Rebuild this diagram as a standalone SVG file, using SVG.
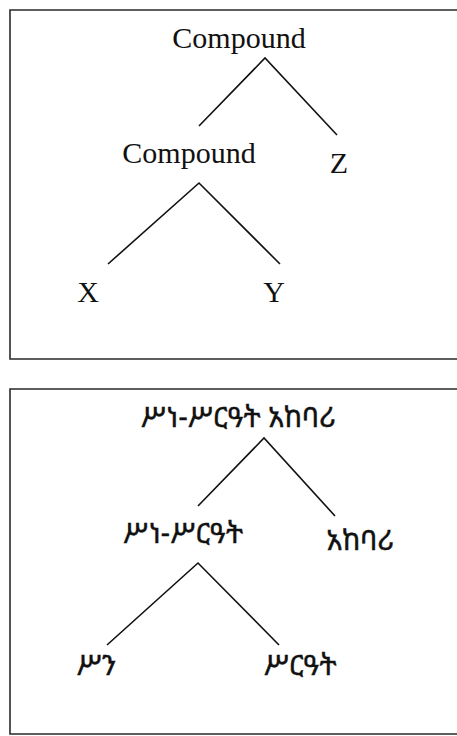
<svg xmlns="http://www.w3.org/2000/svg" width="457" height="736" viewBox="0 0 457 736">
<style>
.frame{fill:none;stroke:#2a2a2a;stroke-width:1.6}
.edge{stroke:#111;stroke-width:1.6;fill:none}
.lat{font-family:"Liberation Serif","Times New Roman",serif;font-size:30px;fill:#111;text-anchor:middle}
.eth{font-family:"Noto Sans Ethiopic","Abyssinica SIL","DejaVu Sans","Noto Sans",sans-serif;font-size:28.5px;fill:#111;stroke:#111;stroke-width:0.4;text-anchor:middle}
</style>
<rect width="457" height="736" fill="#fff"/>
<g id="frame1"><path class="frame" d="M460,10 H10 V359 H460"/></g>
<g id="frame2"><path class="frame" d="M460,389 H10 V734 H460"/></g>
<g id="connectors">
<path class="edge" d="M199,126 L265,58 L337,135"/>
<path class="edge" d="M108,264 L199,183 L280,264"/>
<path class="edge" d="M198,506 L264,438 L335,516"/>
<path class="edge" d="M107,645 L198,563 L279,645"/>
</g>
<g id="n-compound-top"><text class="lat" x="239" y="48">Compound</text></g>
<g id="n-compound-mid"><text class="lat" x="189" y="163">Compound</text></g>
<g id="n-z"><text class="lat" x="339" y="173">Z</text></g>
<g id="n-x"><text class="lat" x="88" y="302">X</text></g>
<g id="n-y"><text class="lat" x="274" y="302">Y</text></g>
<g id="e-top"><text class="eth" x="238" y="427">ሥነ-ሥርዓት አከባሪ</text></g>
<g id="e-mid"><text class="eth" x="183" y="543">ሥነ-ሥርዓት</text></g>
<g id="e-right"><text class="eth" x="360" y="550">አከባሪ</text></g>
<g id="e-left"><text class="eth" x="96" y="675">ሥን</text></g>
<g id="e-leaf-right"><text class="eth" x="300" y="675">ሥርዓት</text></g>
</svg>
